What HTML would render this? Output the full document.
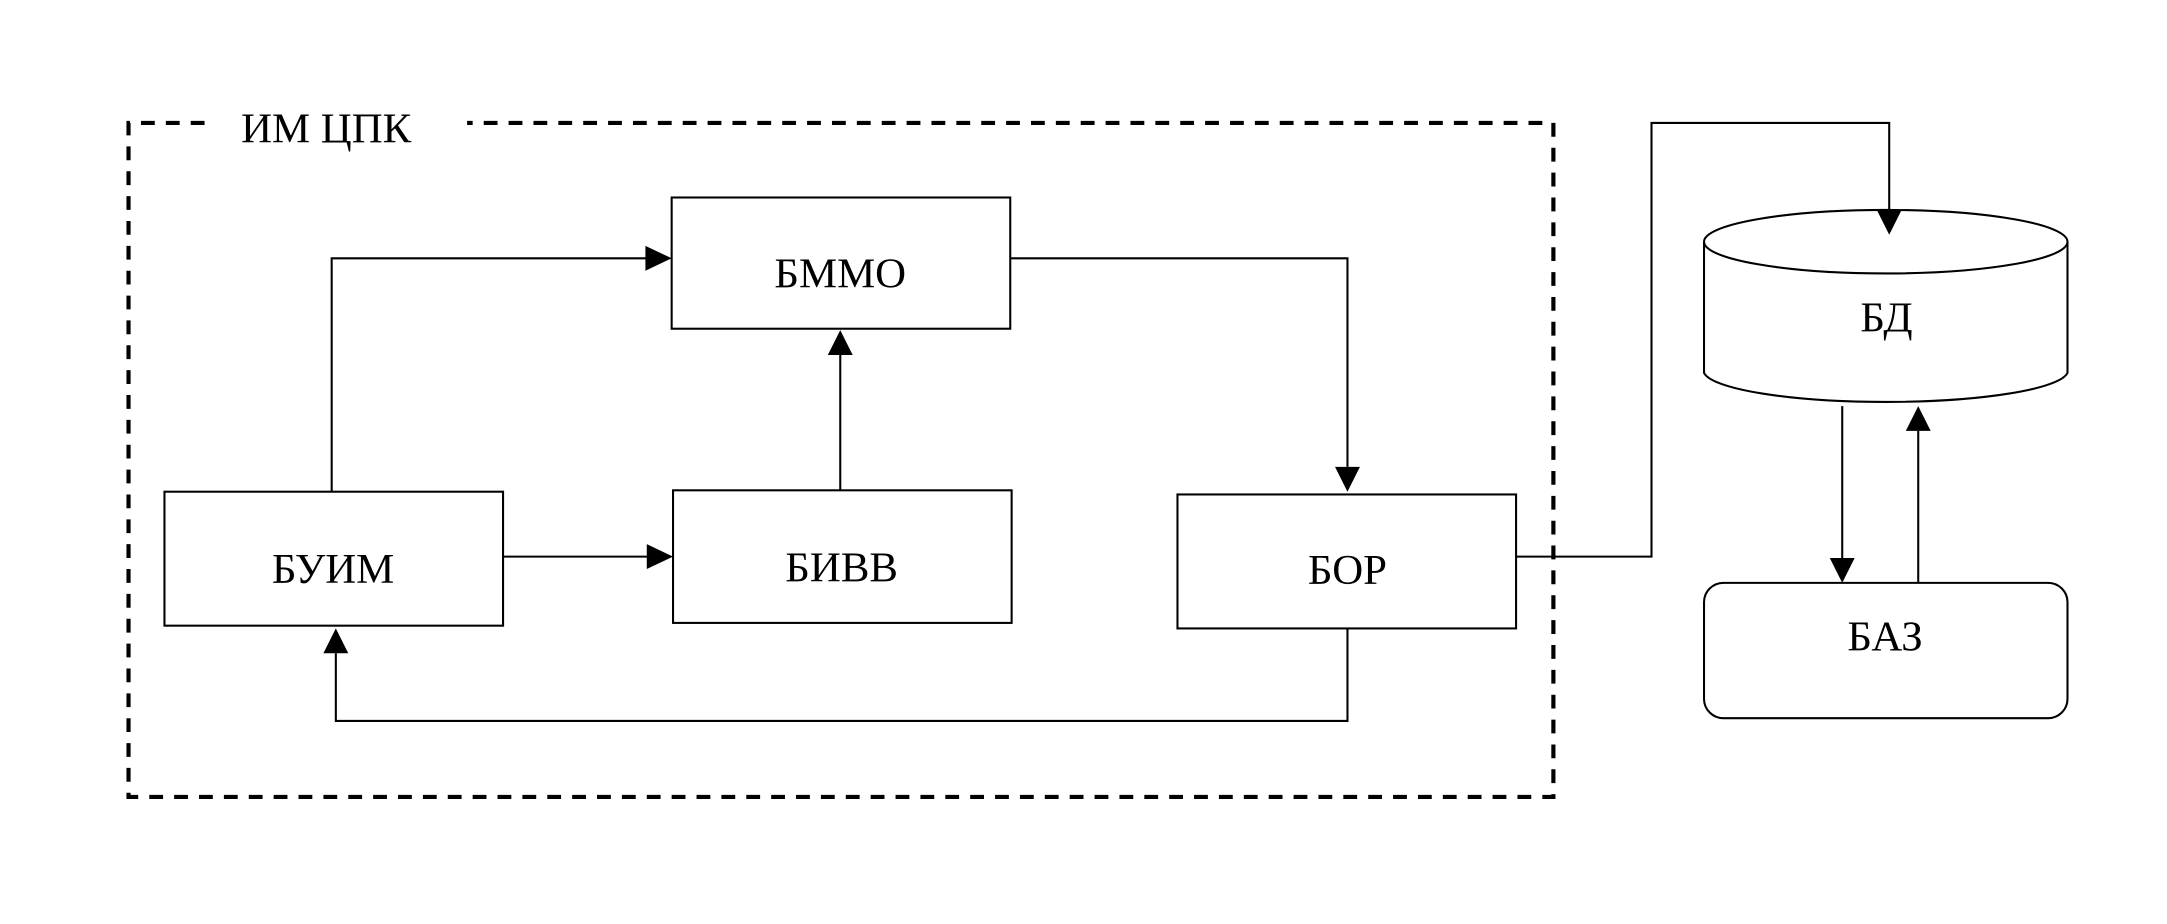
<!DOCTYPE html>
<html><head><meta charset="utf-8"><style>html,body{margin:0;padding:0;background:#fff;}svg{display:block}</style></head>
<body>
<svg width="2167" height="924" viewBox="0 0 1568 669" preserveAspectRatio="none" xmlns="http://www.w3.org/2000/svg" font-family="Liberation Serif, serif" font-size="31">
<g fill="none" stroke="#000" stroke-width="3" stroke-dasharray="10,8">
<path d="M148,89 H93 V577 H1124 V89 H338"/>
</g>
<text x="236" y="103" text-anchor="middle">ИМ ЦПК</text>
<g fill="none" stroke="#000" stroke-width="1.5">
<rect x="486" y="143" width="245" height="95"/>
<rect x="119" y="356" width="245" height="97"/>
<rect x="487" y="355" width="245" height="96"/>
<rect x="852" y="358" width="245" height="97"/>
<rect x="1233" y="422" width="263" height="98" rx="14"/>
<path d="M1233,175 V270 A132,23 0 0 0 1496,270 V175"/>
<ellipse cx="1364.5" cy="175" rx="131.5" ry="23"/>
<path d="M240,356 V187 H468" />
<path d="M731,187 H975 V338"/>
<path d="M608,355 V257"/>
<path d="M364,403 H469"/>
<path d="M975,455 V522 H243 V473"/>
<path d="M1097,403 H1195 V89 H1367 V154"/>
<path d="M1333,294 V405"/>
<path d="M1388,422 V312"/>
</g>
<g fill="#000">
<path d="M486,187 L467,178 L467,196Z"/>
<path d="M975,356 L966,338 L984,338Z"/>
<path d="M608,239 L599,257 L617,257Z"/>
<path d="M487,403 L468,394 L468,412Z"/>
<path d="M243,455 L234,473 L252,473Z"/>
<path d="M1367,170 L1358,152 L1376,152Z"/>
<path d="M1333,422 L1324,404 L1342,404Z"/>
<path d="M1388,294 L1379,312 L1397,312Z"/>
</g>
<g text-anchor="middle">
<text x="608" y="208">БММО</text>
<text x="241" y="422">БУИМ</text>
<text x="609" y="421">БИВВ</text>
<text x="975" y="423">БОР</text>
<text x="1365" y="240">БД</text>
<text x="1364" y="471">БАЗ</text>
</g>
</svg>
</body></html>
